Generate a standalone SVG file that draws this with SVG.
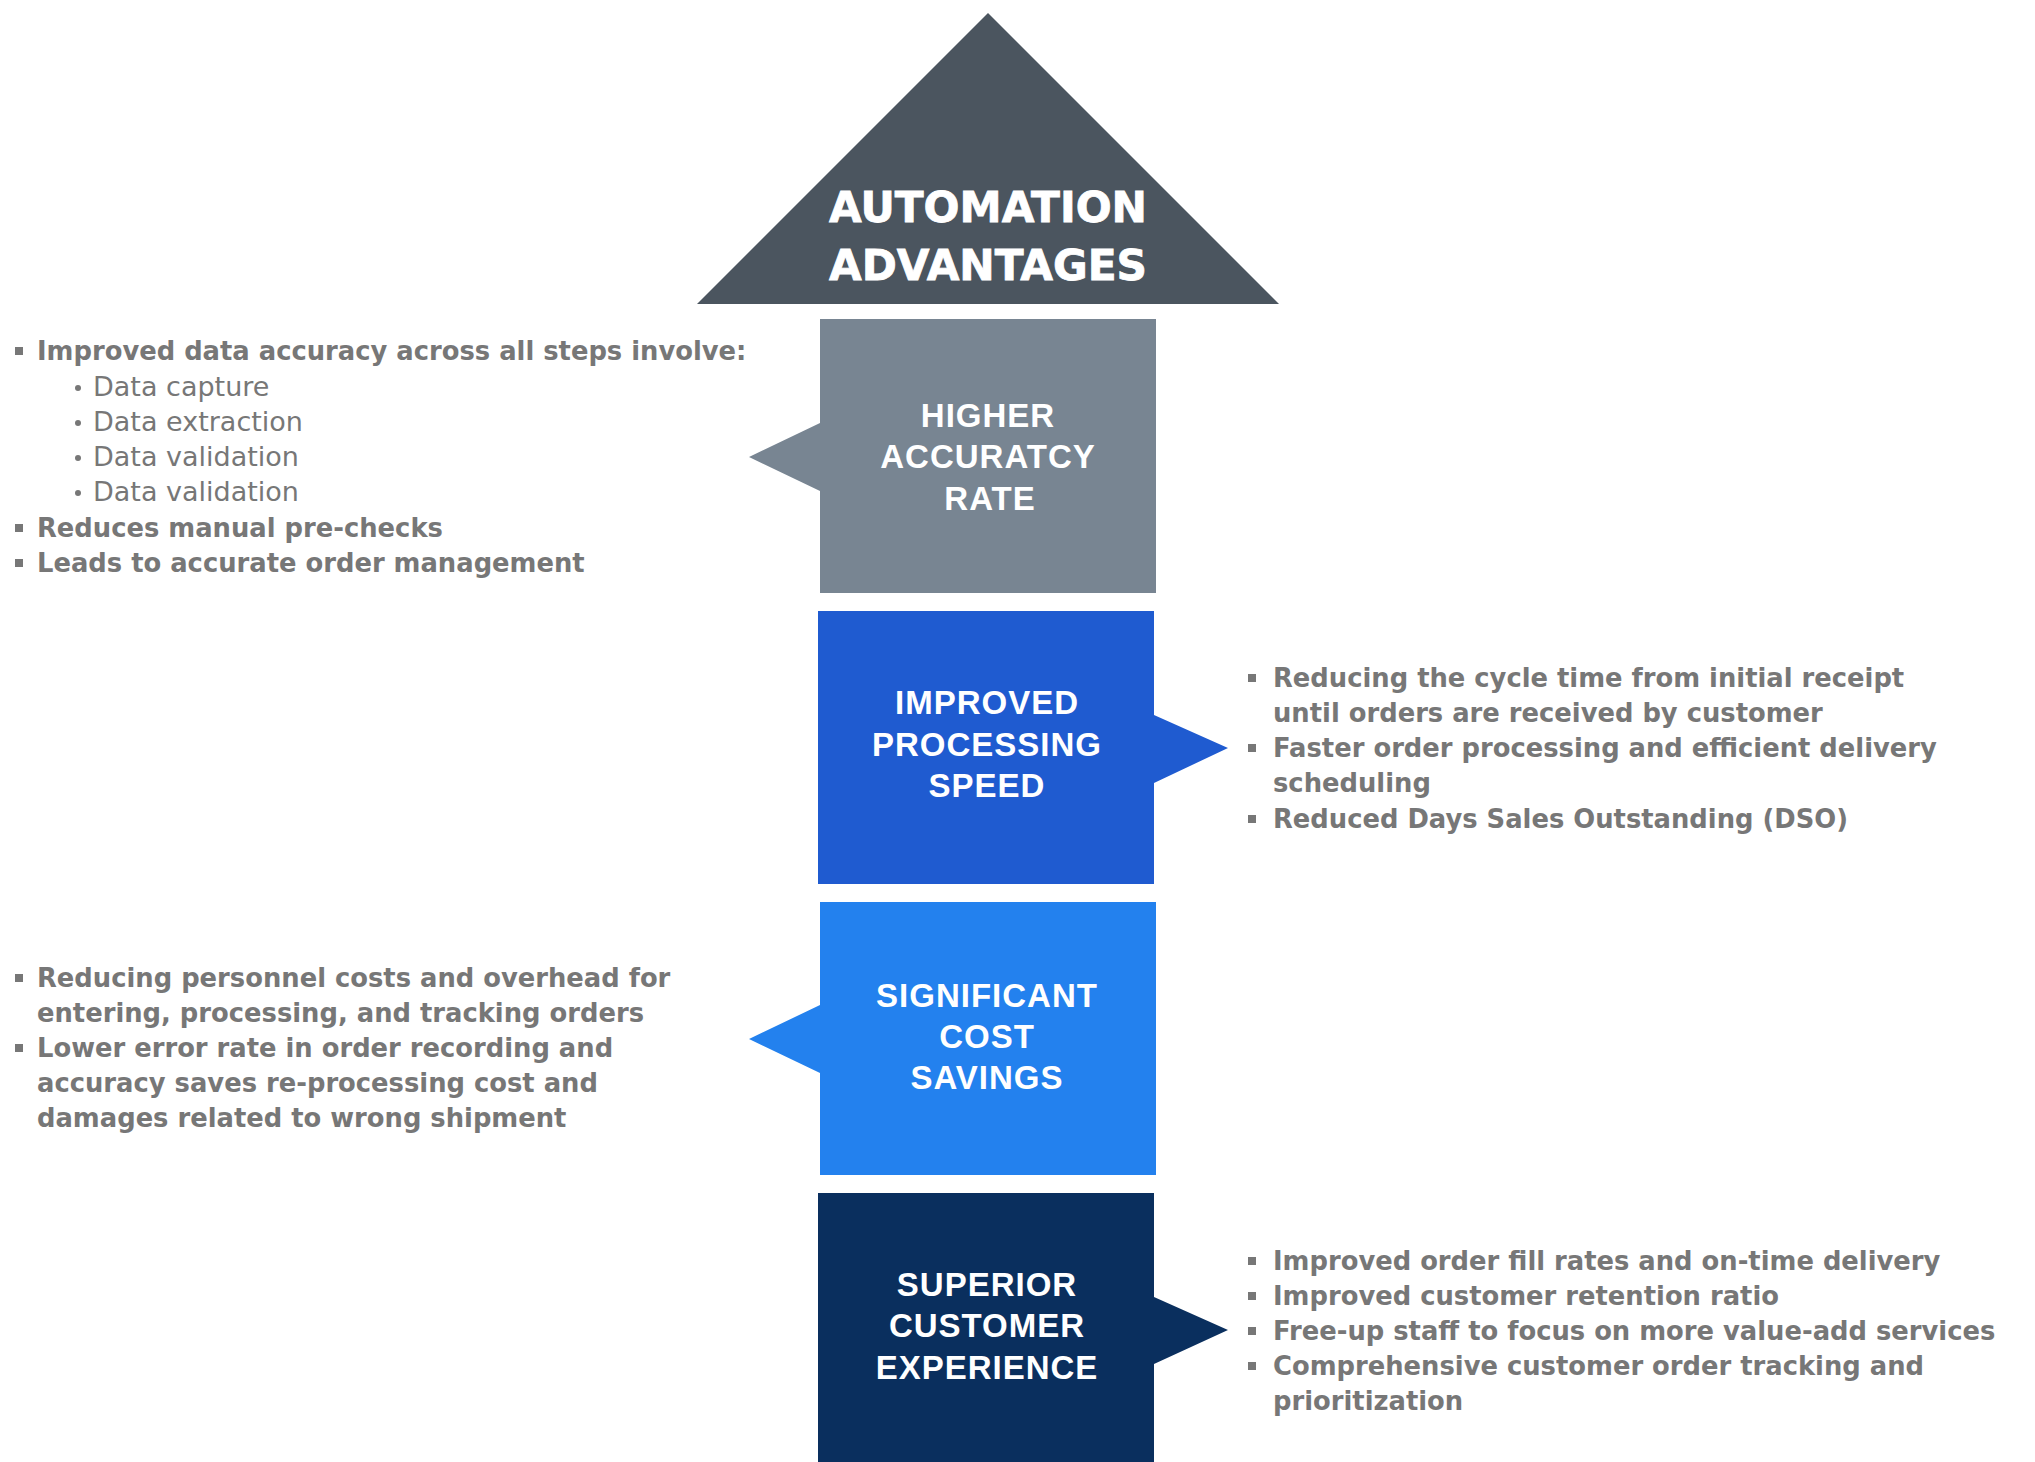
<svg xmlns="http://www.w3.org/2000/svg" width="2035" height="1462" viewBox="0 0 2035 1462">
<style>
.title{font-family:"DejaVu Sans",sans-serif;font-weight:bold;font-size:43px;fill:#fff;text-anchor:middle;stroke:#fff;stroke-width:0.8px}
.lbl{font-family:"Liberation Sans",Arial,sans-serif;font-weight:bold;font-size:33px;fill:#fff;text-anchor:middle;letter-spacing:1px}
.b{font-family:"DejaVu Sans",sans-serif;font-weight:bold;font-size:25.8px;fill:#777}
.r{font-family:"DejaVu Sans",sans-serif;font-size:27px;fill:#777}
.sq{fill:#777}
</style>
<rect width="2035" height="1462" fill="#fff"/>
<g id="title-node">
<path d="M988,13 L1279,304 L697,304 Z" fill="#4b555f"/>
<text class="title" x="988" y="222" textLength="318" lengthAdjust="spacingAndGlyphs">AUTOMATION</text>
<text class="title" x="988" y="280" textLength="318" lengthAdjust="spacingAndGlyphs">ADVANTAGES</text>
</g>
<g id="node-accuracy">
<path d="M820,319 H1156 V593 H820 V491 L749,457 L820,423 Z" fill="#788592"/>
<text class="lbl" x="988" y="427">HIGHER</text>
<text class="lbl" x="988" y="468">ACCURATCY</text>
<text class="lbl" x="990" y="510">RATE</text>
</g>
<g id="node-speed">
<path d="M818,611 H1154 V715 L1228,748 L1154,783 V884 H818 Z" fill="#1f5bd0"/>
<text class="lbl" x="987" y="714">IMPROVED</text>
<text class="lbl" x="987" y="756">PROCESSING</text>
<text class="lbl" x="987" y="797">SPEED</text>
</g>
<g id="node-cost">
<path d="M820,902 H1156 V1175 H820 V1073 L749,1039 L820,1005 Z" fill="#2381ee"/>
<text class="lbl" x="987" y="1007">SIGNIFICANT</text>
<text class="lbl" x="987" y="1048">COST</text>
<text class="lbl" x="987" y="1089">SAVINGS</text>
</g>
<g id="node-customer">
<path d="M818,1193 H1154 V1297 L1228,1330 L1154,1364 V1462 H818 Z" fill="#0a2f5e"/>
<text class="lbl" x="987" y="1296">SUPERIOR</text>
<text class="lbl" x="987" y="1337">CUSTOMER</text>
<text class="lbl" x="987" y="1379">EXPERIENCE</text>
</g>
<g id="connectors"></g>
<g id="text-accuracy">
<rect class="sq" x="15" y="347" width="8" height="8"/>
<text class="b" x="37" y="360">Improved data accuracy across all steps involve:</text>
<circle class="sq" cx="78" cy="388" r="3"/>
<text class="r" x="93" y="396">Data capture</text>
<circle class="sq" cx="78" cy="423" r="3"/>
<text class="r" x="93" y="431">Data extraction</text>
<circle class="sq" cx="78" cy="458" r="3"/>
<text class="r" x="93" y="466">Data validation</text>
<circle class="sq" cx="78" cy="493" r="3"/>
<text class="r" x="93" y="501">Data validation</text>
<rect class="sq" x="15" y="524" width="8" height="8"/>
<text class="b" x="37" y="537">Reduces manual pre-checks</text>
<rect class="sq" x="15" y="559" width="8" height="8"/>
<text class="b" x="37" y="572">Leads to accurate order management</text>
</g>
<g id="text-speed">
<rect class="sq" x="1248" y="674" width="8" height="8"/>
<text class="b" x="1273" y="687">Reducing the cycle time from initial receipt</text>
<text class="b" x="1273" y="722">until orders are received by customer</text>
<rect class="sq" x="1248" y="744" width="8" height="8"/>
<text class="b" x="1273" y="757">Faster order processing and efficient delivery</text>
<text class="b" x="1273" y="792">scheduling</text>
<rect class="sq" x="1248" y="815" width="8" height="8"/>
<text class="b" x="1273" y="828">Reduced Days Sales Outstanding (DSO)</text>
</g>
<g id="text-cost">
<rect class="sq" x="15" y="974" width="8" height="8"/>
<text class="b" x="37" y="987">Reducing personnel costs and overhead for</text>
<text class="b" x="37" y="1022">entering, processing, and tracking orders</text>
<rect class="sq" x="15" y="1044" width="8" height="8"/>
<text class="b" x="37" y="1057">Lower error rate in order recording and</text>
<text class="b" x="37" y="1092">accuracy saves re-processing cost and</text>
<text class="b" x="37" y="1127">damages related to wrong shipment</text>
</g>
<g id="text-customer">
<rect class="sq" x="1248" y="1257" width="8" height="8"/>
<text class="b" x="1273" y="1270">Improved order fill rates and on-time delivery</text>
<rect class="sq" x="1248" y="1292" width="8" height="8"/>
<text class="b" x="1273" y="1305">Improved customer retention ratio</text>
<rect class="sq" x="1248" y="1327" width="8" height="8"/>
<text class="b" x="1273" y="1340">Free-up staff to focus on more value-add services</text>
<rect class="sq" x="1248" y="1362" width="8" height="8"/>
<text class="b" x="1273" y="1375">Comprehensive customer order tracking and</text>
<text class="b" x="1273" y="1410">prioritization</text>
</g>
</svg>
